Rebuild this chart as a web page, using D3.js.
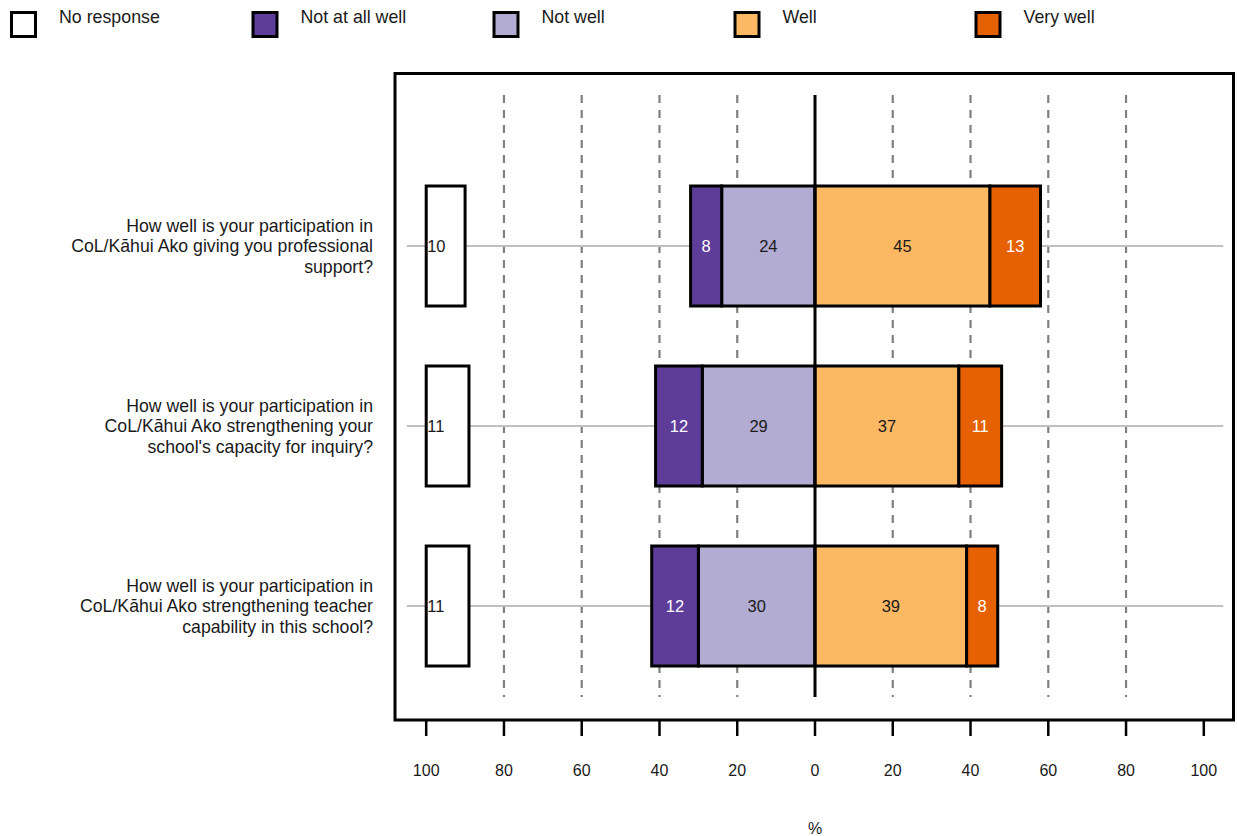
<!DOCTYPE html>
<html>
<head>
<meta charset="utf-8">
<script src="https://cdn.jsdelivr.net/npm/d3@7"></script>
<style>
  body { margin: 0; background: #fff; }
  svg { display: block; font-family: "Liberation Sans", Arial, sans-serif; }
</style>
</head>
<body>
<svg id="chart" width="1237" height="836"></svg>
<script>
// ---- data ----
const questions = [
  ["How well is your participation in", "CoL/Kāhui Ako giving you professional", "support?"],
  ["How well is your participation in", "CoL/Kāhui Ako strengthening your", "school's capacity for inquiry?"],
  ["How well is your participation in", "CoL/Kāhui Ako strengthening teacher", "capability in this school?"]
];
const categories = ["No response", "Not at all well", "Not well", "Well", "Very well"];
const colors = ["#ffffff", "#5e3c99", "#b2abd2", "#fdb863", "#e66101"];
const labelColors = ["#1a1a1a", "#ffffff", "#1a1a1a", "#1a1a1a", "#ffffff"];
const noResponse = [10, 11, 11];
const notAtAllWell = [8, 12, 12];
const notWell = [24, 29, 30];
const well = [45, 37, 39];
const veryWell = [13, 11, 8];
const tickValues = [-100, -80, -60, -40, -20, 0, 20, 40, 60, 80, 100];
const gridValues = [-80, -60, -40, -20, 20, 40, 60, 80];

// ---- layout ----
const svg = d3.select("#chart");
const x = d3.scaleLinear().domain([-100, 100]).range([426.2, 1203.8]);
const ids = questions.map((q, i) => i);
const y = d3.scaleBand().domain(ids).range([156, 696]).paddingInner(1/3).paddingOuter(1/6);
const textColor = "#1a1a1a";

// dashed gridlines
svg.append("g").selectAll("line").data(gridValues).join("line")
  .attr("x1", d => x(d)).attr("x2", d => x(d))
  .attr("y1", 95).attr("y2", 697)
  .attr("stroke", "#808080").attr("stroke-width", 2.2)
  .attr("stroke-dasharray", "8,7");

// row gray lines
svg.append("g").selectAll("line").data(ids).join("line")
  .attr("x1", x(-105)).attr("x2", x(105))
  .attr("y1", d => y(d) + y.bandwidth() / 2).attr("y2", d => y(d) + y.bandwidth() / 2)
  .attr("stroke", "#c0c0c0").attr("stroke-width", 2);

// build segments
const segs = [];
ids.forEach(i => {
  segs.push({row: i, cat: 0, v: noResponse[i], x0: -100, x1: -100 + noResponse[i]});
  const nw = notWell[i], naw = notAtAllWell[i];
  segs.push({row: i, cat: 2, v: nw, x0: -nw, x1: 0});
  segs.push({row: i, cat: 1, v: naw, x0: -nw - naw, x1: -nw});
  segs.push({row: i, cat: 3, v: well[i], x0: 0, x1: well[i]});
  segs.push({row: i, cat: 4, v: veryWell[i], x0: well[i], x1: well[i] + veryWell[i]});
});

const bars = svg.append("g");
bars.selectAll("rect").data(segs).join("rect")
  .attr("x", d => x(d.x0)).attr("width", d => x(d.x1) - x(d.x0))
  .attr("y", d => y(d.row)).attr("height", y.bandwidth())
  .attr("fill", d => colors[d.cat])
  .attr("stroke", "#000").attr("stroke-width", 3);

bars.selectAll("text").data(segs).join("text")
  .attr("x", d => d.cat === 0 ? x(d.x0) + 1 : x((d.x0 + d.x1) / 2))
  .attr("y", d => y(d.row) + y.bandwidth() / 2)
  .attr("dy", "0.36em")
  .attr("text-anchor", d => d.cat === 0 ? "start" : "middle")
  .attr("font-size", 16.5)
  .attr("fill", d => labelColors[d.cat])
  .text(d => d.v);

// zero line
svg.append("line")
  .attr("x1", x(0)).attr("x2", x(0)).attr("y1", 95).attr("y2", 697)
  .attr("stroke", "#000").attr("stroke-width", 3);

// plot box
svg.append("path")
  .attr("d", "M395,720 L395,73.5 L1233.5,73.5 L1233.5,720 Z")
  .attr("fill", "none").attr("stroke", "#000").attr("stroke-width", 3);

// x axis ticks
const axisG = svg.append("g");
axisG.selectAll("line").data(tickValues).join("line")
  .attr("x1", d => x(d)).attr("x2", d => x(d))
  .attr("y1", 720).attr("y2", 736)
  .attr("stroke", "#000").attr("stroke-width", 2.5);
axisG.selectAll("text").data(tickValues).join("text")
  .attr("x", d => x(d)).attr("y", 770).attr("dy", "0.36em")
  .attr("text-anchor", "middle").attr("font-size", 16).attr("fill", textColor)
  .text(d => Math.abs(d));
svg.append("text")
  .attr("x", x(0)).attr("y", 828).attr("dy", "0.36em")
  .attr("text-anchor", "middle").attr("font-size", 16).attr("fill", textColor)
  .text("%");

// row labels
const lab = svg.append("g");
ids.forEach(i => {
  const t = lab.append("text")
    .attr("x", 373).attr("text-anchor", "end")
    .attr("font-size", 17.7).attr("fill", textColor);
  questions[i].forEach((line, k) => {
    t.append("tspan")
      .attr("x", 373)
      .attr("y", y(i) + y.bandwidth() / 2 + (k - 1) * 20.7)
      .attr("dy", "0.36em")
      .text(line);
  });
});

// legend
const legX = [10, 251.5, 492.5, 733.5, 974.5];
const leg = svg.append("g").selectAll("g").data(categories).join("g")
  .attr("transform", (d, i) => `translate(${legX[i]},0)`);
leg.append("rect")
  .attr("x", 1.5).attr("y", 12.5).attr("width", 24).attr("height", 24)
  .attr("fill", (d, i) => colors[i]).attr("stroke", "#000").attr("stroke-width", 3);
leg.append("text")
  .attr("x", 49).attr("y", 17).attr("dy", "0.36em")
  .attr("font-size", 17.8).attr("fill", textColor)
  .text(d => d);
</script>
</body>
</html>
